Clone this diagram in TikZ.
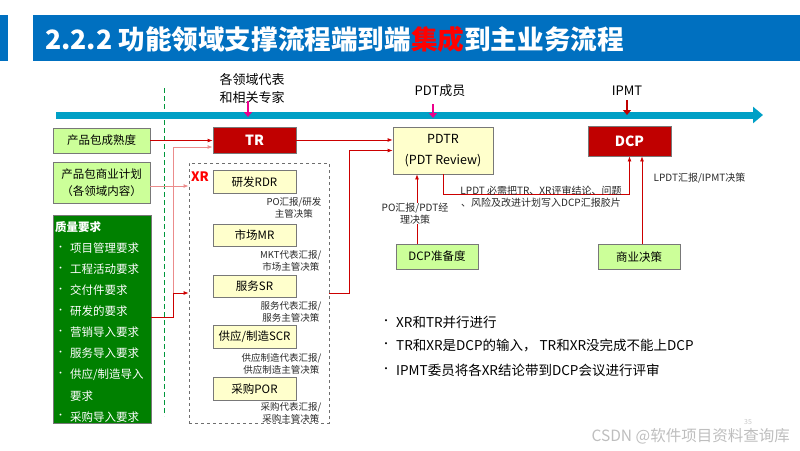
\documentclass[tikz,border=0pt]{standalone}
\usepackage{fontspec}
\setmainfont{Noto Sans CJK SC}
\usetikzlibrary{arrows.meta}

\begin{document}
\begin{tikzpicture}[x=1pt,y=-1pt,
  boxline/.style={draw={rgb,255:red,120;green,120;blue,120}, line width=0.8pt},
  greenbox/.style={boxline, fill={rgb,255:red,204;green,255;blue,153}, minimum width=97pt, minimum height=25pt, align=center, font=\fontsize{11.5}{15}\selectfont},
  yellowbox/.style={boxline, fill={rgb,255:red,255;green,255;blue,204}, minimum width=83pt, minimum height=22.5pt, font=\fontsize{11.5}{14}\selectfont},
  redbox/.style={boxline, fill={rgb,255:red,192;green,0;blue,0}, text=white, minimum width=83pt, font=\fontsize{14}{16}\selectfont\bfseries},
  note/.style={inner sep=0.5pt, align=center, font=\fontsize{9.5}{11.8}\selectfont, text={rgb,255:red,40;green,40;blue,40}},
  rolelabel/.style={inner sep=0pt, align=center, font=\fontsize{13}{18}\selectfont},
  bullettext/.style={anchor=west, inner sep=0pt, font=\fontsize{13.5}{16}\selectfont},
  redlink/.style={draw={rgb,255:red,204;green,0;blue,0}, line width=0.8pt, -{Latex[length=5pt,width=4pt]}},
  pinklink/.style={draw={rgb,255:red,235;green,140;blue,140}, line width=0.9pt, -{Latex[length=5pt,width=4pt]}},
  marker/.style={line width=2.6pt, -{Triangle[length=5pt,width=8pt]}}]
\useasboundingbox (0,0) rectangle (800,450);

% title bar
\fill[fill={rgb,255:red,0;green,112;blue,192}] (0,15) rectangle (8,61);
\fill[fill={rgb,255:red,0;green,112;blue,192}] (33,15) rectangle (800,61);
\node[anchor=west, inner sep=0pt, text=white, font=\fontsize{26.6}{29}\selectfont\bfseries] (title) at (45,39) {2.2.2 功能领域支撑流程端到端\textcolor{red}{集成}到主业务流程};

% timeline
\draw[dash pattern=on 5pt off 3pt, line width=1pt, draw={rgb,255:red,0;green,150;blue,60}] (164,88) -- (164,416);
\coordinate (tlstart) at (56,115);
\coordinate (tlend) at (763,115);
\draw[line width=7pt, draw={rgb,255:red,0;green,160;blue,198}, -{Triangle[length=10pt,width=16pt]}] (tlstart) -- (tlend);

\node[rolelabel] (experts) at (252,89) {各领域代表\\和相关专家};
\node[rolelabel] (pdtmembers) at (440,91) {PDT成员};
\node[rolelabel] (ipmt) at (627,91) {IPMT};
\coordinate (m1a) at (248,101); \coordinate (m1b) at (248,117);
\coordinate (m2a) at (433,104); \coordinate (m2b) at (433,118);
\coordinate (m3a) at (627,100); \coordinate (m3b) at (627,115);
\draw[marker, draw=magenta, fill=magenta] (m1a) -- (m1b);
\draw[marker, draw=magenta, fill=magenta] (m2a) -- (m2b);
\draw[marker, draw={rgb,255:red,192;green,0;blue,0}] (m3a) -- (m3b);

% inputs on the left
\node[greenbox] (maturity) at (101.5,140.5) {产品包成熟度};
\node[greenbox, minimum height=41pt, font=\fontsize{11.5}{17}\selectfont] (bizplan) at (101.5,182.5) {产品包商业计划\\（各领域内容）};
\node[boxline, fill={rgb,255:red,0;green,128;blue,0}, minimum width=98pt, minimum height=208pt] (quality) at (102,319) {};
\node[anchor=west, inner sep=0pt, text=white, font=\fontsize{11.5}{14}\selectfont\bfseries] (qtitle) at (55,227) {质量要求};
\foreach \b/\item [count=\k from 0] in {•/项目管理要求, •/工程活动要求, •/交付件要求, •/研发的要求, •/营销导入要求, •/服务导入要求, •/{供应/制造导入}, /要求, •/采购导入要求}{
  \node[anchor=west, inner sep=0pt, text=white, font=\fontsize{9}{14}\selectfont] (qb\k) at (56,{248+21.1*\k}) {\b};
  \node[anchor=west, inner sep=0pt, text=white, font=\fontsize{11.5}{14}\selectfont] (qi\k) at (70,{248+21.1*\k}) {\item};
}

% TR and XR
\node[redbox, minimum height=26pt] (tr) at (254.5,140) {TR};
\node[draw={rgb,255:red,110;green,110;blue,110}, dashed, line width=0.8pt, minimum width=140pt, minimum height=260pt] (xr) at (259,293) {};
\node[anchor=west, inner sep=0pt, text=red, font=\fontsize{13}{15}\selectfont\bfseries] (xrlabel) at (191,177) {XR};
\node[yellowbox] (rdr) at (254.5,182) {研发RDR};
\node[yellowbox] (mr) at (254.5,235.5) {市场MR};
\node[yellowbox] (sr) at (254.5,286.5) {服务SR};
\node[yellowbox] (scr) at (254.5,337) {供应/制造SCR};
\node[yellowbox] (por) at (254.5,389) {采购POR};
\node[note, anchor=east] (rdrnote) at (322,207.5) {PO汇报/研发\\主管决策};
\node[note, anchor=east] (mrnote) at (322,261) {MKT代表汇报/\\市场主管决策};
\node[note, anchor=east] (srnote) at (322,312) {服务代表汇报/\\服务主管决策};
\node[note, anchor=east] (scrnote) at (322,364) {供应制造代表汇报/\\供应制造主管决策};
\node[note, anchor=east] (pornote) at (322,412.5) {采购代表汇报/\\采购主管决策};

% PDTR and DCP
\node[yellowbox, minimum width=100pt, minimum height=47pt, align=center, font=\fontsize{12.5}{21}\selectfont] (pdtr) at (443,150.5) {PDTR\\(PDT Review)};
\node[redbox, minimum height=30pt] (dcp) at (629.5,141) {DCP};
\node[greenbox, minimum width=82pt] (ready) at (437,256.5) {DCP准备度};
\node[greenbox, minimum width=82pt] (decision) at (639,257) {商业决策};

% connectors
\draw[redlink] (maturity.east) -- (tr.west |- maturity.east);
\path ([yshift=-3.5pt]bizplan.east) coordinate (bp);
\draw[pinklink] (bp) -- (bp -| xr.west);
\path ([yshift=2pt]quality.east) coordinate (qr);
\draw[pinklink] (qr) -- ++(22,0) |- ([yshift=-7pt]tr.west);
\draw[redlink] (qr) -- ++(22,0) |- (xr.west);
\draw[redlink] (tr.east) -- (tr.east -| pdtr.west);
\draw[redlink] (xr.east) -- ++(20,0) |- (pdtr.west);
\path ([xshift=-20pt]ready.north) coordinate (rd);
\draw[redlink] (rd) -- (rd |- pdtr.south);
\draw[redlink] (pdtr.south) -- ++(0,20) -| (dcp.south);
\path ([xshift=3pt]decision.north) coordinate (dc);
\draw[redlink] (dc) -- (dc |- dcp.south);

\node[note, fill=white, font=\fontsize{10}{11.5}\selectfont] (readynote) at (415,213.5) {PO汇报/PDT经\\理决策};
\node[note, font=\fontsize{10}{12}\selectfont] (lpdtnote) at (541,197) {LPDT 必需把TR、XR评审结论、问题\\、风险及改进计划写入DCP汇报胶片};
\node[note, anchor=west, font=\fontsize{10}{12}\selectfont] (decisionnote) at (653,178) {LPDT汇报/IPMT决策};

% key points
\node[bullettext, font=\fontsize{10}{16}\selectfont] (dot1) at (381,322) {•};
\node[bullettext] (key1) at (396,322) {XR和TR并行进行};
\node[bullettext, font=\fontsize{10}{16}\selectfont] (dot2) at (381,345) {•};
\node[bullettext] (key2) at (396,345) {TR和XR是DCP的输入， TR和XR没完成不能上DCP};
\node[bullettext, font=\fontsize{10}{16}\selectfont] (dot3) at (381,370) {•};
\node[bullettext] (key3) at (396,370) {IPMT委员将各XR结论带到DCP会议进行评审};

\node[inner sep=0pt, text={rgb,255:red,200;green,200;blue,200}, font=\fontsize{7}{8}\selectfont] (pageno) at (748,422) {35};
\node[anchor=east, inner sep=0pt, text={rgb,255:red,190;green,190;blue,190}, font=\fontsize{15.5}{18}\selectfont] (mark) at (790,436) {CSDN @软件项目资料查询库};

\end{tikzpicture}
\end{document}
